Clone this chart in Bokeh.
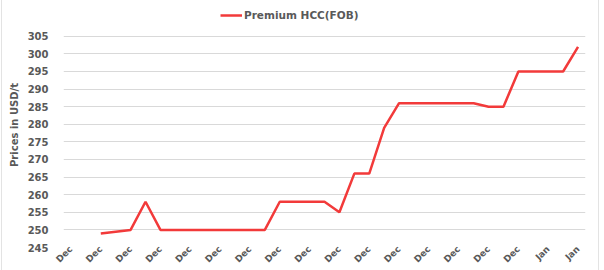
from bokeh.plotting import figure
from bokeh.models import Range1d, FixedTicker, Legend, LegendItem
from bokeh.embed import file_html
from bokeh.resources import INLINE
import math

# 35 category slots (daily), labels shown on every other slot
slot_count = 35
tick_slots = list(range(0, 35, 2))
tick_labels = ["Dec"] * 16 + ["Jan"] * 2

# data points (slot index, price)
data_slots = [2, 4, 5, 6, 7, 8, 9, 10, 11, 12, 13, 14, 15, 16, 17, 18, 19, 20,
              21, 22, 23, 24, 25, 26, 27, 28, 29, 30, 31, 32, 33, 34]
prices = [249, 250, 258, 250, 250, 250, 250, 250, 250, 250, 250, 258, 258, 258, 258, 255, 266, 266,
          279, 286, 286, 286, 286, 286, 286, 285, 285, 295, 295, 295, 295, 302]

y_ticks = list(range(245, 306, 5))
series_name = "Premium HCC(FOB)"

FONT = "DejaVu Sans"
GRAY = "#595959"

# the frame extends above the 305 gridline to leave room for the legend
p = figure(width=598, height=270, output_backend="svg", toolbar_location=None,
           x_range=Range1d(-0.5, slot_count - 0.5), y_range=Range1d(245, 314.6),
           min_border_left=61, min_border_right=15, min_border_top=2, min_border_bottom=22,
           styles={"border-left": "1px solid #e3e3e3", "border-right": "1px solid #e3e3e3",
                   "margin-left": "1px"})
p.outline_line_color = None

r = p.line(data_slots, prices, line_color="#f23a3a", line_width=2.5)

p.xgrid.visible = False
p.ygrid.grid_line_color = "#d9d9d9"
p.ygrid.grid_line_width = 1

p.xaxis.ticker = FixedTicker(ticks=tick_slots)
p.xaxis.major_label_overrides = {s: l for s, l in zip(tick_slots, tick_labels)}
p.xaxis.major_label_orientation = math.pi / 4
p.xaxis.major_label_standoff = -6
p.xaxis.major_label_text_font = FONT
p.xaxis.major_label_text_font_style = "bold"
p.xaxis.major_label_text_font_size = "9px"
p.xaxis.major_label_text_color = GRAY

p.yaxis.ticker = FixedTicker(ticks=y_ticks)
p.yaxis.major_label_standoff = 9
p.yaxis.major_label_text_font = FONT
p.yaxis.major_label_text_font_style = "bold"
p.yaxis.major_label_text_font_size = "10px"
p.yaxis.major_label_text_color = GRAY
p.yaxis.axis_label = "Prices in USD/t"
p.yaxis.axis_label_text_font = FONT
p.yaxis.axis_label_text_font_style = "bold"
p.yaxis.axis_label_text_font_size = "10px"
p.yaxis.axis_label_text_color = GRAY
p.yaxis.axis_label_standoff = 5

for ax in (p.xaxis, p.yaxis):
    ax.axis_line_color = None
    ax.major_tick_line_color = None
    ax.minor_tick_line_color = None

legend = Legend(items=[LegendItem(label=series_name, renderers=[r])],
                orientation="horizontal", location=(157, 225),
                label_text_font=FONT, label_text_font_style="bold",
                label_text_font_size="10.5px", label_text_color=GRAY,
                glyph_width=22, glyph_height=14, label_standoff=2,
                padding=4, margin=0, border_line_color=None, background_fill_alpha=0)
p.add_layout(legend)

open("out.html", "w").write(file_html(p, INLINE))
